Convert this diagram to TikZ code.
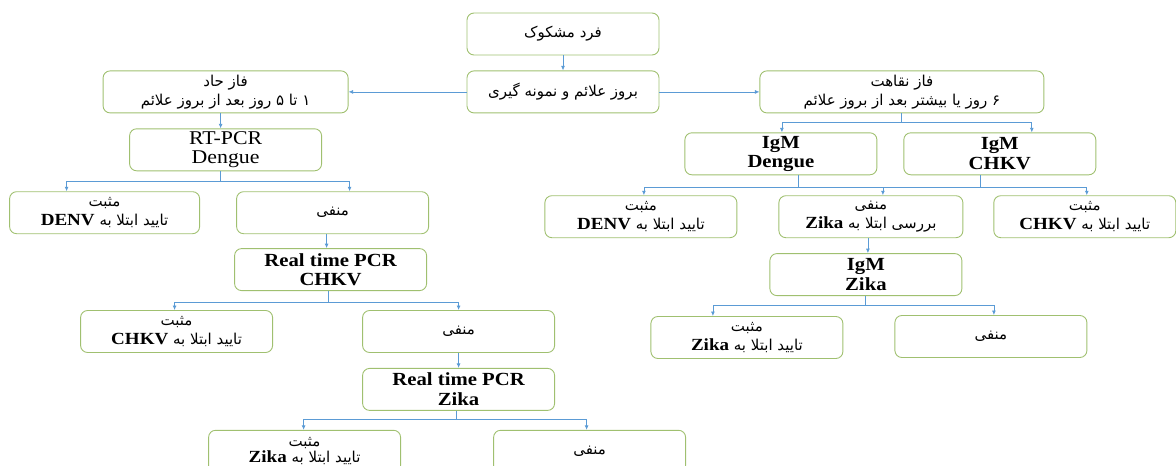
\documentclass[tikz,border=0pt]{standalone}
\usepackage{fontspec}
\setmainfont[FakeStretch=1.12]{Liberation Serif}
\newfontfamily\fafont[Script=Arabic]{DejaVu Sans}
\TeXXeTstate=1
\usetikzlibrary{positioning}
\usetikzlibrary{arrows.meta}

\definecolor{boxgreen}{RGB}{160,192,112}
\definecolor{linkblue}{RGB}{91,155,213}

\newcommand{\fatxt}[1]{{\fafont\beginR #1\endR}}
\newcommand{\enword}[1]{\beginL{\rmfamily\bfseries\fontsize{17}{17}\selectfont #1}\endL}

\begin{document}
\begin{tikzpicture}[x=1pt, y=-1pt,
    box/.style={draw=boxgreen, line width=0.9pt, rounded corners=7pt, minimum width=192pt, minimum height=42pt, align=center, inner sep=1pt, font=\fontsize{15}{19}\selectfont},
    lat/.style={font=\fontsize{19.5}{19.5}\selectfont},
    latb/.style={font=\fontsize{18.5}{19.5}\selectfont\bfseries},
    link/.style={draw=linkblue, line width=0.8pt},
    flow/.style={link, -{Latex[length=4.5pt, width=4pt]}}]
    \useasboundingbox (0,0) rectangle (1176,466);
    \clip (0,0) rectangle (1176,466);

    % top
    \node[box] (suspect) at (563,34) {\fatxt{فرد مشکوک}};
    \node[box, below = 15pt of suspect] (onset) {\fatxt{بروز علائم و نمونه گیری}};
    \node[box, minimum width=245pt, left = 118pt of onset] (acute) {\fatxt{فاز حاد}\\\fatxt{۱ تا ۵ روز بعد از بروز علائم}};
    \node[box, minimum width=284pt, right = 100pt of onset] (conval) {\fatxt{فاز نقاهت}\\\fatxt{۶ روز یا بیشتر بعد از بروز علائم}};

    % acute branch
    \node[box, lat, below = 15pt of acute] (dengueRT) {RT-PCR\\Dengue};
    \node[box, minimum width=190pt, below = 20pt of dengueRT, xshift=-121pt] (posDenvL) {\fatxt{مثبت}\\\fatxt{تایید ابتلا به \enword{DENV}}};
    \node[box, below = 20pt of dengueRT, xshift=107pt] (negA) {\fatxt{منفی}};
    \node[box, latb, below = 14pt of negA, xshift=-2pt] (chkvRT) {Real time PCR\\CHKV};
    \node[box, below = 19pt of chkvRT, xshift=-154pt] (posChkvL) {\fatxt{مثبت}\\\fatxt{تایید ابتلا به \enword{CHKV}}};
    \node[box, below = 19pt of chkvRT, xshift=128pt] (negB) {\fatxt{منفی}};
    \node[box, latb, below = 15pt of negB] (zikaRT) {Real time PCR\\Zika};
    \node[box, below = 19pt of zikaRT, xshift=-154pt] (posZikaL) {\fatxt{مثبت}\\[-3pt]\fatxt{تایید ابتلا به \enword{Zika}}};
    \node[box, below = 19pt of zikaRT, xshift=131pt] (negC) {\fatxt{منفی}};

    % convalescent branch
    \node[box, latb, below = 19pt of conval, xshift=-121pt] (igmDen) {IgM\\Dengue};
    \node[box, latb, right = 26pt of igmDen] (igmChk) {IgM\\CHKV};
    \node[box, below = 20pt of igmDen, xshift=-140pt] (posDenvR) {\fatxt{مثبت}\\\fatxt{تایید ابتلا به \enword{DENV}}};
    \node[box, minimum width=184pt, below = 20pt of igmDen, xshift=90pt] (negZika) {\fatxt{منفی}\\\fatxt{بررسی ابتلا به \enword{Zika}}};
    \node[box, minimum width=182pt, below = 20pt of igmChk, xshift=85pt] (posChkvR) {\fatxt{مثبت}\\\fatxt{تایید ابتلا به \enword{CHKV}}};
    \node[box, latb, below = 15pt of negZika, xshift=-5pt] (igmZika) {IgM\\Zika};
    \node[box, below = 20pt of igmZika, xshift=-119pt] (posZikaR) {\fatxt{مثبت}\\\fatxt{تایید ابتلا به \enword{Zika}}};
    \node[box, below = 19pt of igmZika, xshift=125pt] (negD) {\fatxt{منفی}};

    % connectors
    \draw[flow] (suspect) -- (onset);
    \draw[flow] (onset.west) -- (acute.east);
    \draw[flow] (onset.east) -- (conval.west);
    \draw[flow] ([xshift=-5pt]acute.south) -- ([xshift=-5pt]dengueRT.north);

    \draw[link] ([xshift=-5pt]dengueRT.south) -- ++(0,10) coordinate (dengueSplit);
    \draw[flow] (dengueSplit) -| ([xshift=-38pt]posDenvL.north);
    \draw[flow] (dengueSplit) -| ([xshift=17pt]negA.north);
    \draw[flow] ([xshift=-6pt]negA.south) -- ([xshift=-4pt]chkvRT.north);

    \draw[link] ([xshift=-2pt]chkvRT.south) -- ++(0,11) coordinate (chkvSplit);
    \draw[flow] (chkvSplit) -| ([xshift=-2pt]posChkvL.north);
    \draw[flow] (chkvSplit) -| (negB.north);
    \draw[flow] (negB) -- (zikaRT);

    \draw[link] ([xshift=-2pt]zikaRT.south) -- ++(0,9) coordinate (zikaSplit);
    \draw[flow] (zikaSplit) -| ([xshift=-1pt]posZikaL.north);
    \draw[flow] (zikaSplit) -| ([xshift=-3pt]negC.north);

    \draw[link] ([xshift=-1pt]conval.south) -- ++(0,9) coordinate (convalSplit);
    \draw[flow] (convalSplit) -| ([xshift=1pt]igmDen.north);
    \draw[flow] (convalSplit) -| ([xshift=32pt]igmChk.north);

    \draw[link] ([xshift=17pt]igmDen.south) -- ++(0,12) coordinate (igmSplit);
    \draw[link] ([xshift=-19pt]igmChk.south) |- (igmSplit);
    \draw[flow] (igmSplit) -| ([xshift=3pt]posDenvR.north);
    \draw[flow] (igmSplit) -| ([xshift=12pt]negZika.north);
    \draw[flow] (igmSplit) -| ([xshift=2pt]posChkvR.north);
    \draw[flow] ([xshift=-3pt]negZika.south) -- ([xshift=2pt]igmZika.north);

    \draw[link] ([xshift=-1pt]igmZika.south) -- ++(0,9) coordinate (igmZikaSplit);
    \draw[flow] (igmZikaSplit) -| ([xshift=-34pt]posZikaR.north);
    \draw[flow] (igmZikaSplit) -| ([xshift=3pt]negD.north);
\end{tikzpicture}
\end{document}
